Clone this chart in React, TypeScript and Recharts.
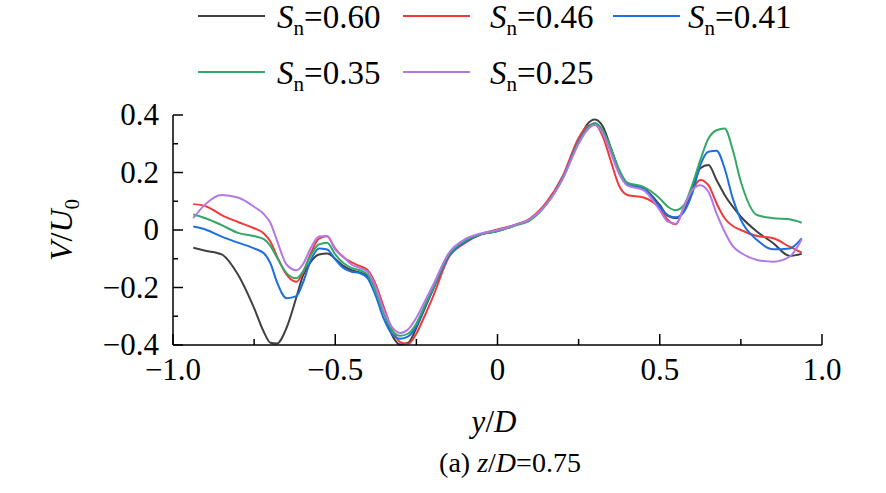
import { LineChart, Line, XAxis, YAxis } from 'recharts';

// y/D positions shared by all five profiles
const yD = [
  -0.9375, -0.9, -0.85, -0.8, -0.75, -0.72, -0.7, -0.68, -0.65, -0.62, -0.6, -0.575, -0.55, -0.525, -0.5,
  -0.475, -0.45, -0.425, -0.4, -0.375, -0.35, -0.325, -0.3, -0.275, -0.25, -0.225, -0.2, -0.15, -0.1, -0.05,
  0, 0.05, 0.1, 0.15, 0.2, 0.25, 0.275, 0.3, 0.325, 0.35, 0.375, 0.4, 0.45, 0.5, 0.525, 0.55, 0.575, 0.6,
  0.625, 0.65, 0.675, 0.7, 0.725, 0.75, 0.8, 0.85, 0.9, 0.9375
];

// V/U0 for each swirl number
const sn060 = [
  -0.062, -0.072, -0.085, -0.155, -0.272, -0.355, -0.392, -0.395, -0.34, -0.235, -0.16, -0.11, -0.085, -0.082, -0.1,
  -0.125, -0.14, -0.148, -0.16, -0.205, -0.285, -0.365, -0.398, -0.392, -0.34, -0.275, -0.21, -0.09, -0.042, -0.015,
  -0.004, 0.015, 0.037, 0.09, 0.179, 0.31, 0.365, 0.384, 0.359, 0.283, 0.203, 0.16, 0.145, 0.087, 0.049, 0.041, 0.069, 0.139,
  0.215, 0.226, 0.174, 0.122, 0.081, 0.046, -0.006, -0.046, -0.09, -0.083
];
const sn046 = [
  0.09, 0.083, 0.052, 0.028, 0.006, -0.012, -0.04, -0.09, -0.155, -0.18, -0.15, -0.08, -0.03, -0.022, -0.065,
  -0.095, -0.112, -0.125, -0.14, -0.19, -0.27, -0.345, -0.39, -0.396, -0.36, -0.3, -0.235, -0.095, -0.045, -0.014,
  0.002, 0.017, 0.04, 0.095, 0.185, 0.32, 0.36, 0.368, 0.324, 0.237, 0.153, 0.122, 0.113, 0.075, 0.035, 0.02, 0.081, 0.139,
  0.174, 0.156, 0.093, 0.041, 0.014, 0, -0.021, -0.029, -0.058, -0.079
];
const sn041 = [
  0.012, 0.002, -0.023, -0.044, -0.064, -0.081, -0.115, -0.18, -0.237, -0.23, -0.185, -0.104, -0.064, -0.068, -0.102,
  -0.132, -0.145, -0.15, -0.168, -0.23, -0.31, -0.362, -0.378, -0.37, -0.335, -0.27, -0.21, -0.09, -0.042, -0.015,
  -0.004, 0.015, 0.036, 0.089, 0.178, 0.308, 0.352, 0.37, 0.343, 0.28, 0.205, 0.162, 0.145, 0.081, 0.052, 0.044, 0.064, 0.127,
  0.226, 0.272, 0.276, 0.214, 0.11, 0.035, -0.035, -0.067, -0.064, -0.029
];
const sn035 = [
  0.054, 0.041, 0.017, -0.01, -0.021, -0.032, -0.055, -0.095, -0.15, -0.168, -0.145, -0.087, -0.05, -0.044, -0.085,
  -0.115, -0.132, -0.14, -0.155, -0.215, -0.29, -0.35, -0.368, -0.36, -0.325, -0.265, -0.205, -0.085, -0.037, -0.014,
  -0.004, 0.014, 0.033, 0.088, 0.177, 0.305, 0.35, 0.372, 0.345, 0.283, 0.21, 0.165, 0.15, 0.11, 0.081, 0.069, 0.087, 0.156,
  0.243, 0.318, 0.347, 0.353, 0.278, 0.168, 0.052, 0.041, 0.037, 0.025
];
const sn025 = [
  0.041, 0.09, 0.122, 0.113, 0.081, 0.055, 0.025, -0.035, -0.12, -0.14, -0.12, -0.062, -0.023, -0.021, -0.068,
  -0.093, -0.12, -0.132, -0.145, -0.2, -0.28, -0.338, -0.358, -0.345, -0.305, -0.25, -0.195, -0.08, -0.032, -0.012,
  0, 0.016, 0.038, 0.088, 0.176, 0.3, 0.345, 0.365, 0.335, 0.266, 0.195, 0.155, 0.139, 0.069, 0.029, 0.022, 0.081, 0.139,
  0.156, 0.133, 0.058, -0.006, -0.056, -0.079, -0.104, -0.11, -0.093, -0.032
];

const snLabels = ['0.60', '0.46', '0.41', '0.35', '0.25'];
const xTicks = [-1, -0.75, -0.5, -0.25, 0, 0.25, 0.5, 0.75, 1];
const xMajor = [-1, -0.5, 0, 0.5, 1];
const yTicks = [-0.4, -0.3, -0.2, -0.1, 0, 0.1, 0.2, 0.3, 0.4];
const yMajor = [-0.4, -0.2, 0, 0.2, 0.4];

const series = [
  { key: 'sn060', values: sn060, color: '#404040' },
  { key: 'sn046', values: sn046, color: '#f03a3a' },
  { key: 'sn041', values: sn041, color: '#1c6fe2' },
  { key: 'sn035', values: sn035, color: '#33a866' },
  { key: 'sn025', values: sn025, color: '#b279e4' }
];

const data = yD.map((x, i) => {
  const row: Record<string, number> = { x };
  series.forEach(s => (row[s.key] = s.values[i]));
  return row;
});

const FONT = 'Liberation Serif';

const isMajor = (v: number, list: number[]) => list.some(m => Math.abs(m - v) < 1e-6);
const fmt = (v: number) =>
  Math.abs(v) < 1e-9 ? '0' : (v < 0 ? '\u2212' : '') + Math.abs(v).toFixed(1);

const XTick = (props: any) => {
  const { x, y, payload } = props;
  const major = isMajor(payload.value, xMajor);
  return (
    <g>
      <line x1={x} x2={x} y1={y} y2={y - (major ? 11 : 6)} stroke='#000' strokeWidth={1.5} />
      {major && (
        <text x={x} y={y + 35} textAnchor='middle' fontSize={31} fontFamily={FONT} fill='#000'>
          {fmt(payload.value)}
        </text>
      )}
    </g>
  );
};

const YTick = (props: any) => {
  const { x, y, payload } = props;
  const major = isMajor(payload.value, yMajor);
  return (
    <g>
      <line x1={x} x2={x + (major ? 10 : 5)} y1={y} y2={y} stroke='#000' strokeWidth={1.5} />
      {major && (
        <text x={x - 14} y={y + 10} textAnchor='end' fontSize={31} fontFamily={FONT} fill='#000'>
          {fmt(payload.value)}
        </text>
      )}
    </g>
  );
};

const legendSlots = [
  { x: 198, y: 16, tx: 277 },
  { x: 403, y: 16, tx: 490 },
  { x: 613, y: 16, tx: 688 },
  { x: 198, y: 72, tx: 277 },
  { x: 403, y: 72, tx: 490 }
];

const App = () => {
  return (
    <div style={{ position: 'absolute', left: 0, top: 0, width: 886, height: 493, background: '#fff' }}>
      <LineChart width={886} height={493} data={data} margin={{ top: 115, right: 64, bottom: 0, left: 0 }}>
        <XAxis
          type='number'
          dataKey='x'
          domain={[-1, 1]}
          ticks={xTicks}
          height={148}
          tickSize={0}
          tickMargin={0}
          tickLine={false}
          axisLine={{ stroke: '#000', strokeWidth: 1.5 }}
          tick={<XTick />}
          interval={0}
        />
        <YAxis
          type='number'
          domain={[-0.4, 0.4]}
          ticks={yTicks}
          width={173}
          tickSize={0}
          tickMargin={0}
          tickLine={false}
          axisLine={{ stroke: '#000', strokeWidth: 1.5 }}
          tick={<YTick />}
          interval={0}
        />
        {series.map(s => (
          <Line
            key={s.key}
            type='monotone'
            dataKey={s.key}
            stroke={s.color}
            strokeWidth={2}
            dot={false}
            isAnimationActive={false}
          />
        ))}
      </LineChart>
      <svg width={886} height={493} style={{ position: 'absolute', left: 0, top: 0, pointerEvents: 'none' }}>
        {series.map((s, i) => {
          const slot = legendSlots[i];
          return (
            <g key={s.key}>
              <line x1={slot.x} x2={slot.x + 67} y1={slot.y} y2={slot.y} stroke={s.color} strokeWidth={2} />
              <text x={slot.tx} y={slot.y + 12} fontSize={33} fontFamily={FONT} fill='#000'>
                <tspan fontStyle='italic'>S</tspan>
                <tspan fontSize={21} dy={7}>n</tspan>
                <tspan dy={-7}>={snLabels[i]}</tspan>
              </text>
            </g>
          );
        })}
        <text x={494} y={432} textAnchor='middle' fontSize={31} fontFamily={FONT} fill='#000'>
          <tspan fontStyle='italic'>y</tspan>/<tspan fontStyle='italic'>D</tspan>
        </text>
        <text transform='translate(72 230) rotate(-90)' textAnchor='middle' fontSize={32} fontFamily={FONT} fill='#000'>
          <tspan fontStyle='italic'>V</tspan>/<tspan fontStyle='italic'>U</tspan>
          <tspan fontSize={21} dy={7}>0</tspan>
        </text>
        <text x={510} y={472} textAnchor='middle' fontSize={28} fontFamily={FONT} fill='#000'>
          (a) <tspan fontStyle='italic'>z</tspan>/<tspan fontStyle='italic'>D</tspan>=0.75
        </text>
      </svg>
    </div>
  );
};

export default App;
